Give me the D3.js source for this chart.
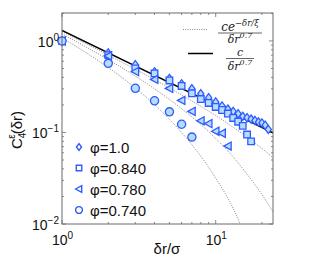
<!DOCTYPE html>
<html>
<head>
<meta charset="utf-8">
<script src="https://cdnjs.cloudflare.com/ajax/libs/d3/7.8.5/d3.min.js"></script>
<style>
  body { margin: 0; background: #fff; }
  svg { display: block; font-family: "Liberation Sans", Arial, sans-serif; }
</style>
</head>
<body>
<svg id="chart" width="314" height="260"></svg>
<script>
// data (C4 vs dr/sigma, log-log)
const phiLabels = ['φ=1.0', 'φ=0.840', 'φ=0.780', 'φ=0.740'];

const rDiamond = [1, 2, 3, 4, 5, 6, 7, 8, 9, 10, 11, 12, 13, 14, 15, 16, 17, 18, 19, 20, 21, 22];
const cDiamond = [1.0, 0.74, 0.55, 0.46, 0.39, 0.34, 0.30, 0.265, 0.24, 0.215, 0.195, 0.18, 0.17, 0.16, 0.15, 0.145, 0.14, 0.135, 0.13, 0.127, 0.12, 0.108];

const rSquare = [1, 2, 3, 4, 5, 6, 7, 8, 9, 10, 11, 12, 13, 14, 15, 16, 17];
const cSquare = [1.0, 0.70, 0.50, 0.443, 0.37, 0.322, 0.268, 0.232, 0.21, 0.19, 0.176, 0.161, 0.144, 0.131, 0.118, 0.095, 0.08];

const rTriangle = [1, 2, 3, 4, 5, 6, 7, 8, 9, 10, 11, 12];
const cTriangle = [1.0, 0.686, 0.464, 0.38, 0.303, 0.224, 0.17, 0.134, 0.125, 0.103, 0.098, 0.071];

const rCircle = [1, 2, 3, 4, 5, 6, 7];
const cCircle = [1.0, 0.569, 0.304, 0.222, 0.168, 0.123, 0.089];

// guide curves
const rCurve = [1, 1.5, 2, 3, 4, 6, 8, 10, 13, 16, 20, 23.6];
const cDotSquare = [1.266, 0.898, 0.70, 0.491, 0.378, 0.257, 0.193, 0.153, 0.114, 0.089, 0.067, 0.053];
const cDotTriangle = [1.195, 0.823, 0.625, 0.413, 0.300, 0.182, 0.122, 0.086, 0.054, 0.035, 0.021, 0.0136];
const cDotCircle = [1.082, 0.709, 0.512, 0.306, 0.2015, 0.100, 0.055, 0.0317, 0.0148, 0.0065, 0.0025, 0.001];
const rSolid = [1, 23.6];
const cSolid = [1.30, 0.099];

const xTicks = [1, 10];
const yTicks = [0.01, 0.1, 1];

const svg = d3.select('#chart');
const box = { left: 62, right: 273, top: 13, bottom: 224 };

const x = d3.scaleLog().domain([1, 23.6]).range([box.left, box.right]);
const y = d3.scaleLog().domain([0.01, 2.02]).range([box.bottom, box.top]);

const blue = '#2f5bff';
const fillBlue = '#b6dcff';
const axisColor = '#6b6b6b';

svg.append('defs').append('clipPath').attr('id', 'plot-clip')
  .append('rect').attr('x', box.left).attr('y', box.top).attr('width', box.right - box.left).attr('height', box.bottom - box.top);

// minor + major ticks, all four sides, pointing in
const xMinor = d3.range(2, 10).concat([20]);
const yMinor = [];
[0.01, 0.1, 1].forEach((d) => d3.range(2, 10).forEach((k) => { if (d * k < 2.02) yMinor.push(d * k); }));

const tickG = svg.append('g').attr('stroke', axisColor).attr('stroke-width', 0.8);
xMinor.forEach((v) => {
  tickG.append('line').attr('x1', x(v)).attr('x2', x(v)).attr('y1', box.bottom).attr('y2', box.bottom - 2);
  tickG.append('line').attr('x1', x(v)).attr('x2', x(v)).attr('y1', box.top).attr('y2', box.top + 2);
});
xTicks.forEach((v) => {
  tickG.append('line').attr('x1', x(v)).attr('x2', x(v)).attr('y1', box.bottom).attr('y2', box.bottom - 4);
  tickG.append('line').attr('x1', x(v)).attr('x2', x(v)).attr('y1', box.top).attr('y2', box.top + 4);
});
yMinor.forEach((v) => {
  tickG.append('line').attr('x1', box.left).attr('x2', box.left + 2).attr('y1', y(v)).attr('y2', y(v));
  tickG.append('line').attr('x1', box.right).attr('x2', box.right - 2).attr('y1', y(v)).attr('y2', y(v));
});
yTicks.forEach((v) => {
  tickG.append('line').attr('x1', box.left).attr('x2', box.left + 4).attr('y1', y(v)).attr('y2', y(v));
  tickG.append('line').attr('x1', box.right).attr('x2', box.right - 4).attr('y1', y(v)).attr('y2', y(v));
});

// guide curves
const line = d3.line().x((d) => x(d[0])).y((d) => y(d[1])).curve(d3.curveMonotoneX);
const curveG = svg.append('g').attr('clip-path', 'url(#plot-clip)').attr('fill', 'none');
[cDotSquare, cDotTriangle, cDotCircle].forEach((cs) => {
  curveG.append('path').datum(d3.zip(rCurve, cs)).attr('d', line)
    .attr('stroke', '#8a8a8a').attr('stroke-width', 1).attr('stroke-dasharray', '1,1.3');
});
curveG.append('path').datum(d3.zip(rSolid, cSolid)).attr('d', d3.line().x((d) => x(d[0])).y((d) => y(d[1])))
  .attr('stroke', '#000').attr('stroke-width', 1.5);

// markers
const symbols = {
  diamond: (s) => `M0,${-s}L${s * 0.75},0L0,${s}L${-s * 0.75},0Z`,
  square: (s) => `M${-s * 0.8},${-s * 0.8}h${s * 1.6}v${s * 1.6}h${-s * 1.6}Z`,
  triangle: (s) => `M${-s},0L${s * 0.8},${-s}L${s * 0.8},${s}Z`,
  circle: (s) => `M${s},0A${s},${s},0,1,1,${-s},0A${s},${s},0,1,1,${s},0Z`,
};
const series = [
  { shape: 'diamond', r: rDiamond, c: cDiamond },
  { shape: 'square', r: rSquare, c: cSquare },
  { shape: 'triangle', r: rTriangle, c: cTriangle },
  { shape: 'circle', r: rCircle, c: cCircle },
];
const markG = svg.append('g');
series.forEach((s) => {
  markG.selectAll(`path.${s.shape}`).data(d3.zip(s.r, s.c)).join('path')
    .classed(s.shape, true)
    .attr('transform', (d) => `translate(${x(d[0])},${y(d[1])})`)
    .attr('d', symbols[s.shape](4.1))
    .attr('fill', fillBlue).attr('stroke', blue).attr('stroke-width', 1.3);
});

// box
svg.append('rect').attr('x', box.left).attr('y', box.top).attr('width', box.right - box.left).attr('height', box.bottom - box.top)
  .attr('fill', 'none').attr('stroke', axisColor).attr('stroke-width', 1);

// tick labels
const powLabel = (g, px, py, exp, anchor) => {
  const t = g.append('text').attr('x', px).attr('y', py).attr('text-anchor', anchor)
    .attr('font-size', 14).attr('fill', '#111');
  t.append('tspan').text('10');
  t.append('tspan').attr('dy', -6).attr('font-size', 10).text(exp);
};
const labG = svg.append('g');
yTicks.forEach((v) => powLabel(labG, box.left - 3, y(v) + 6, String(Math.round(Math.log10(v))).replace('-', '−'), 'end'));
xTicks.forEach((v) => powLabel(labG, x(v) - 10, 245, String(Math.round(Math.log10(v))), 'start'));

// axis titles
svg.append('text').attr('x', 167).attr('y', 254).attr('text-anchor', 'middle')
  .attr('font-size', 15).attr('fill', '#111').text('δr/σ');
const yl = svg.append('text').attr('transform', 'translate(22,130) rotate(-90)')
  .attr('text-anchor', 'middle').attr('font-size', 15).attr('fill', '#111');
yl.append('tspan').text('C');
yl.append('tspan').attr('font-size', 10).attr('dy', 4).text('4');
yl.append('tspan').attr('font-size', 10).attr('dx', -6).attr('dy', -11).text('ε');
yl.append('tspan').attr('dy', 7).text('(δr)');

// marker legend
const legG = svg.append('g');
phiLabels.forEach((lab, i) => {
  const ly = 147 + i * 21;
  legG.append('path').attr('transform', `translate(79,${ly})`).attr('d', symbols[series[i].shape](3.4))
    .attr('fill', '#fff').attr('stroke', blue).attr('stroke-width', 1.4);
  legG.append('text').attr('x', 90).attr('y', ly + 5.5).attr('font-size', 15).attr('fill', '#111').text(lab);
});

// formula legend
const fG = svg.append('g').attr('font-family', '"DejaVu Serif", "Liberation Serif", serif').attr('font-style', 'italic').attr('fill', '#222');
fG.append('line').attr('x1', 183).attr('x2', 208).attr('y1', 29.5).attr('y2', 29.5)
  .attr('stroke', '#8a8a8a').attr('stroke-dasharray', '1,1.3');
const n1 = fG.append('text').attr('x', 240).attr('y', 30.5).attr('text-anchor', 'middle').attr('font-size', 12);
n1.append('tspan').text('ce');
n1.append('tspan').attr('dy', -5).attr('font-size', 8.5).text('−δr/ξ');
fG.append('line').attr('x1', 218).attr('x2', 262).attr('y1', 33).attr('y2', 33).attr('stroke', '#222').attr('stroke-width', 0.7);
const d1 = fG.append('text').attr('x', 240).attr('y', 42.5).attr('text-anchor', 'middle').attr('font-size', 11);
d1.append('tspan').text('δr');
d1.append('tspan').attr('dy', -5).attr('font-size', 8).text('0.7');

fG.append('line').attr('x1', 188).attr('x2', 213).attr('y1', 53.5).attr('y2', 53.5).attr('stroke', '#000').attr('stroke-width', 1.5);
fG.append('text').attr('x', 240).attr('y', 56).attr('text-anchor', 'middle').attr('font-size', 11).text('c');
fG.append('line').attr('x1', 226).attr('x2', 254).attr('y1', 58.5).attr('y2', 58.5).attr('stroke', '#222').attr('stroke-width', 0.7);
const d2 = fG.append('text').attr('x', 240).attr('y', 70).attr('text-anchor', 'middle').attr('font-size', 11);
d2.append('tspan').text('δr');
d2.append('tspan').attr('dy', -5).attr('font-size', 8).text('0.7');
</script>
</body>
</html>
